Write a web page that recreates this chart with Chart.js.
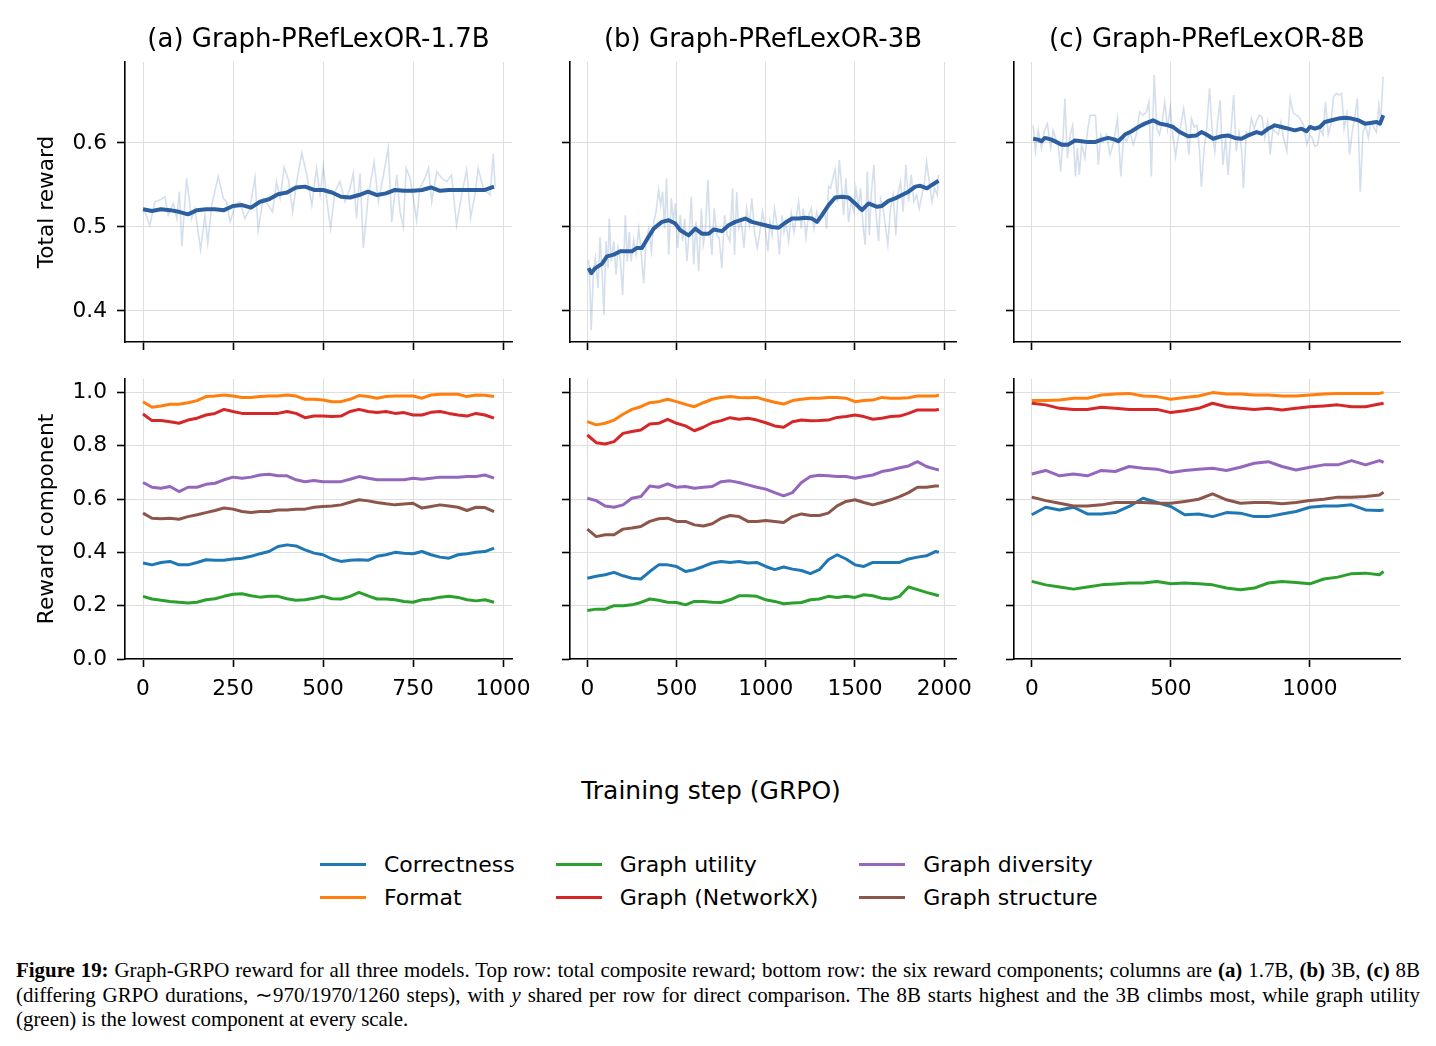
<!DOCTYPE html>
<html>
<head>
<meta charset="utf-8">
<script src="https://cdn.jsdelivr.net/npm/chart.js@4.4.1/dist/chart.umd.min.js"></script>
<style>
  body { margin: 0; background: #fff; width: 1436px; height: 1046px; overflow: hidden; position: relative; font-family: "DejaVu Sans", sans-serif; }
  .panel { position: absolute; }
  #pA1 { left: 30px;  top: 14px;  width: 488px; height: 340px; }
  #pB1 { left: 550px; top: 14px;  width: 412px; height: 340px; }
  #pC1 { left: 994px; top: 14px;  width: 412px; height: 340px; }
  #pA2 { left: 30px;  top: 371px; width: 512px; height: 328px; }
  #pB2 { left: 550px; top: 371px; width: 436px; height: 328px; }
  #pC2 { left: 994px; top: 371px; width: 436px; height: 328px; }
  #xlabel { position: absolute; left: 0; width: 1422px; top: 776px; text-align: center; font-size: 25px; color: #000; }
  #legend { position: absolute; left: 320px; top: 848px; display: grid; grid-auto-flow: column; grid-template-rows: 33px 33px; column-gap: 41px; font-size: 22px; color: #000; }
  .item { display: flex; align-items: center; white-space: nowrap; }
  .swatch { width: 46px; height: 3px; margin-right: 18px; }
  #caption { position: absolute; left: 16px; top: 958px; width: 1404px; font-family: "Liberation Serif", "Times New Roman", serif; font-size: 20.9px; line-height: 24.5px; color: #000; }
  .just { text-align: justify; text-align-last: justify; white-space: nowrap; }
</style>
</head>
<body>
<div class="panel" id="pA1"><canvas id="cA1"></canvas></div>
<div class="panel" id="pB1"><canvas id="cB1"></canvas></div>
<div class="panel" id="pC1"><canvas id="cC1"></canvas></div>
<div class="panel" id="pA2"><canvas id="cA2"></canvas></div>
<div class="panel" id="pB2"><canvas id="cB2"></canvas></div>
<div class="panel" id="pC2"><canvas id="cC2"></canvas></div>
<div id="xlabel">Training step (GRPO)</div>
<div id="legend"></div>
<div id="caption">
  <div class="just"><b>Figure 19:</b> Graph-GRPO reward for all three models. Top row: total composite reward; bottom row: the six reward components; columns are <b>(a)</b> 1.7B, <b>(b)</b> 3B, <b>(c)</b> 8B</div>
  <div class="just">(differing GRPO durations, ∼970/1970/1260 steps), with <i>y</i> shared per row for direct comparison. The 8B starts highest and the 3B climbs most, while graph utility</div>
  <div>(green) is the lowest component at every scale.</div>
</div>
<script>
// titres et libellés
const panelTitles = ['(a) Graph-PRefLexOR-1.7B', '(b) Graph-PRefLexOR-3B', '(c) Graph-PRefLexOR-8B'];
const componentNames = ['Correctness', 'Format', 'Graph utility', 'Graph (NetworkX)', 'Graph diversity', 'Graph structure'];
const componentColors = ['#1f77b4', '#ff7f0e', '#2ca02c', '#d62728', '#9467bd', '#8c564b'];

// graduations
const xTicksA = [0, 250, 500, 750, 1000];
const xTicksB = [0, 500, 1000, 1500, 2000];
const xTicksC = [0, 500, 1000];
const yTicksTop = [0.4, 0.5, 0.6];
const yTicksBottom = [0.0, 0.2, 0.4, 0.6, 0.8, 1.0];

// récompense totale (1.7B)
const smoothStepsA = [0,25,50,75,100,125,150,175,200,225,250,275,300,325,350,375,400,425,450,475,500,525,550,575,600,625,650,675,700,725,750,775,800,825,850,875,900,925,950,975];
const smoothRewardA = [0.521,0.519,0.521,0.520,0.518,0.515,0.520,0.521,0.521,0.520,0.525,0.526,0.523,0.530,0.533,0.539,0.541,0.547,0.548,0.544,0.544,0.541,0.536,0.535,0.538,0.542,0.538,0.540,0.544,0.543,0.543,0.544,0.547,0.543,0.544,0.544,0.544,0.544,0.544,0.548];
const rawStepsA = [5,19,33,47,61,70,84,94,101,108,121,135,144,160,172,180,191,209,223,232,242,256,269,283,297,311,320,334,348,360,371,381,392,404,416,427,441,455,469,482,492,501,510,521,533,547,561,575,584,593,603,612,626,642,654,668,681,691,705,714,723,731,742,751,760,769,783,793,802,816,830,844,857,871,885,899,910,922,931,945,964,973,978];
const rawRewardA = [0.518,0.502,0.530,0.532,0.536,0.514,0.528,0.510,0.542,0.477,0.558,0.510,0.522,0.473,0.514,0.481,0.526,0.560,0.534,0.530,0.506,0.526,0.530,0.510,0.522,0.559,0.496,0.534,0.526,0.518,0.554,0.534,0.571,0.556,0.518,0.554,0.588,0.562,0.526,0.570,0.538,0.572,0.534,0.498,0.542,0.554,0.530,0.546,0.564,0.510,0.564,0.475,0.538,0.577,0.530,0.562,0.594,0.506,0.562,0.518,0.500,0.570,0.558,0.534,0.508,0.546,0.558,0.570,0.530,0.566,0.558,0.554,0.562,0.502,0.538,0.568,0.511,0.538,0.570,0.546,0.538,0.587,0.548];

// récompense totale (3B)
const smoothStepsB = [7,22,45,82,110,148,185,213,250,278,306,334,372,418,456,493,521,568,605,642,680,708,754,792,829,885,922,960,997,1035,1072,1109,1147,1184,1221,1259,1287,1315,1352,1389,1427,1464,1501,1539,1576,1623,1651,1688,1725,1763,1800,1838,1866,1903,1931,1968];
const smoothRewardB = [0.451,0.445,0.451,0.456,0.465,0.467,0.471,0.471,0.471,0.475,0.475,0.485,0.498,0.506,0.508,0.504,0.496,0.490,0.498,0.492,0.492,0.497,0.495,0.502,0.506,0.510,0.506,0.504,0.502,0.500,0.499,0.505,0.510,0.510,0.511,0.510,0.506,0.514,0.526,0.535,0.536,0.535,0.528,0.520,0.528,0.524,0.525,0.531,0.534,0.538,0.542,0.548,0.549,0.546,0.550,0.555];
const rawStepsB = [7,15,22,34,45,60,71,82,93,105,116,123,134,148,161,172,185,198,213,224,235,246,260,273,288,303,316,329,344,359,373,385,400,411,422,433,444,456,471,482,493,506,521,534,545,558,571,583,596,609,624,639,650,661,676,687,698,711,726,739,754,769,784,799,814,825,837,848,863,878,893,908,922,937,952,967,982,997,1012,1023,1035,1049,1064,1076,1091,1102,1113,1128,1143,1158,1173,1184,1199,1210,1225,1240,1255,1270,1285,1300,1315,1330,1341,1352,1363,1378,1389,1401,1412,1423,1436,1449,1464,1479,1494,1505,1520,1531,1546,1557,1569,1580,1591,1606,1617,1632,1643,1655,1670,1684,1699,1714,1729,1740,1755,1770,1785,1800,1815,1830,1845,1860,1875,1890,1901,1916,1931,1946,1961,1968];
const rawRewardB = [0.461,0.427,0.377,0.447,0.463,0.427,0.488,0.451,0.395,0.483,0.451,0.510,0.459,0.483,0.443,0.475,0.461,0.419,0.514,0.459,0.494,0.459,0.485,0.467,0.498,0.467,0.433,0.483,0.498,0.471,0.506,0.518,0.544,0.526,0.542,0.498,0.558,0.467,0.534,0.506,0.528,0.475,0.514,0.483,0.510,0.459,0.494,0.536,0.455,0.506,0.447,0.522,0.479,0.494,0.556,0.498,0.467,0.522,0.490,0.487,0.451,0.514,0.490,0.483,0.546,0.467,0.542,0.498,0.506,0.475,0.522,0.502,0.534,0.494,0.475,0.494,0.518,0.498,0.471,0.506,0.490,0.522,0.502,0.467,0.514,0.494,0.506,0.483,0.516,0.494,0.514,0.530,0.498,0.522,0.487,0.514,0.522,0.498,0.518,0.506,0.518,0.518,0.498,0.548,0.546,0.560,0.568,0.530,0.580,0.554,0.514,0.558,0.506,0.530,0.518,0.546,0.524,0.546,0.500,0.479,0.566,0.490,0.538,0.574,0.518,0.483,0.534,0.526,0.502,0.479,0.522,0.538,0.490,0.538,0.554,0.518,0.574,0.530,0.562,0.530,0.538,0.522,0.538,0.554,0.578,0.554,0.530,0.546,0.538,0.562];

// récompense totale (8B)
const smoothStepsC = [5,23,35,47,71,89,107,131,155,179,203,227,251,275,299,311,335,359,383,406,436,460,490,508,532,562,592,610,628,652,682,706,730,754,778,808,826,850,874,898,922,946,970,988,1000,1018,1036,1054,1078,1102,1126,1150,1174,1198,1222,1240,1252,1264];
const smoothRewardC = [0.605,0.604,0.602,0.606,0.604,0.601,0.598,0.598,0.603,0.602,0.601,0.601,0.604,0.606,0.604,0.602,0.610,0.614,0.619,0.623,0.627,0.623,0.621,0.619,0.613,0.608,0.609,0.613,0.610,0.605,0.608,0.609,0.606,0.605,0.609,0.613,0.611,0.617,0.621,0.619,0.617,0.615,0.617,0.614,0.619,0.617,0.619,0.625,0.627,0.629,0.630,0.629,0.627,0.623,0.624,0.625,0.623,0.633];
const rawStepsC = [5,13,23,35,44,56,68,77,85,95,104,113,119,128,138,147,157,164,171,179,191,200,209,221,229,239,248,257,269,281,289,299,308,320,330,341,353,365,376,388,400,412,421,430,440,450,459,469,478,488,498,507,517,526,536,546,555,565,574,584,594,603,610,620,629,639,649,658,668,677,687,697,706,716,726,735,745,754,761,771,781,790,800,809,819,828,838,848,857,867,876,886,896,905,917,929,941,953,965,977,989,999,1008,1018,1028,1037,1047,1056,1066,1075,1085,1095,1104,1114,1123,1133,1143,1152,1162,1171,1181,1191,1200,1210,1219,1229,1239,1248,1255,1263];
const rawRewardC = [0.621,0.590,0.615,0.594,0.613,0.623,0.594,0.615,0.606,0.598,0.566,0.610,0.653,0.582,0.610,0.621,0.560,0.594,0.562,0.598,0.582,0.613,0.633,0.633,0.633,0.574,0.610,0.602,0.610,0.586,0.594,0.610,0.629,0.560,0.606,0.602,0.613,0.598,0.610,0.637,0.633,0.637,0.649,0.560,0.681,0.617,0.610,0.625,0.649,0.617,0.643,0.610,0.584,0.606,0.621,0.641,0.619,0.586,0.629,0.619,0.621,0.590,0.548,0.594,0.617,0.665,0.613,0.590,0.625,0.651,0.574,0.606,0.562,0.613,0.657,0.590,0.613,0.594,0.546,0.613,0.610,0.629,0.617,0.627,0.633,0.631,0.606,0.625,0.586,0.617,0.613,0.610,0.625,0.606,0.590,0.653,0.635,0.633,0.629,0.621,0.598,0.610,0.606,0.596,0.598,0.617,0.610,0.649,0.610,0.621,0.655,0.659,0.657,0.659,0.617,0.635,0.586,0.613,0.633,0.653,0.542,0.613,0.621,0.606,0.625,0.619,0.613,0.645,0.625,0.679];

// composantes (1.7B)
const stepsA = [0,25,50,75,100,125,150,175,200,225,250,275,300,325,350,375,400,425,450,475,500,525,550,575,600,625,650,675,700,725,750,775,800,825,850,875,900,925,950,975];
const correctnessA = [0.360,0.353,0.362,0.366,0.353,0.353,0.362,0.372,0.370,0.370,0.375,0.378,0.385,0.395,0.403,0.422,0.428,0.424,0.409,0.397,0.391,0.375,0.366,0.370,0.372,0.370,0.385,0.391,0.400,0.397,0.395,0.403,0.391,0.382,0.378,0.391,0.395,0.400,0.403,0.416];
const formatA = [0.965,0.944,0.949,0.955,0.955,0.961,0.969,0.984,0.986,0.990,0.986,0.981,0.981,0.984,0.986,0.986,0.990,0.986,0.974,0.974,0.971,0.965,0.965,0.974,0.988,0.984,0.978,0.984,0.986,0.986,0.986,0.978,0.990,0.993,0.993,0.993,0.984,0.990,0.989,0.984];
const utilityA = [0.235,0.225,0.220,0.216,0.213,0.210,0.213,0.222,0.226,0.235,0.243,0.245,0.237,0.232,0.235,0.235,0.226,0.220,0.222,0.228,0.235,0.226,0.225,0.235,0.250,0.237,0.225,0.225,0.222,0.216,0.213,0.222,0.225,0.232,0.235,0.231,0.222,0.218,0.222,0.213];
const networkxA = [0.919,0.894,0.894,0.890,0.884,0.896,0.903,0.915,0.921,0.936,0.928,0.921,0.921,0.921,0.921,0.921,0.928,0.921,0.905,0.911,0.911,0.909,0.911,0.928,0.936,0.928,0.924,0.928,0.921,0.924,0.915,0.915,0.925,0.928,0.921,0.915,0.911,0.921,0.915,0.903];
const diversityA = [0.662,0.644,0.640,0.647,0.628,0.644,0.644,0.655,0.659,0.672,0.682,0.678,0.682,0.690,0.693,0.687,0.687,0.672,0.665,0.669,0.665,0.665,0.665,0.674,0.684,0.678,0.672,0.672,0.672,0.672,0.678,0.674,0.678,0.682,0.682,0.682,0.684,0.684,0.690,0.678];
const structureA = [0.547,0.528,0.526,0.528,0.524,0.534,0.541,0.549,0.557,0.566,0.562,0.553,0.549,0.553,0.553,0.559,0.559,0.562,0.562,0.569,0.572,0.574,0.578,0.588,0.597,0.593,0.587,0.582,0.578,0.581,0.584,0.566,0.572,0.578,0.574,0.569,0.557,0.569,0.568,0.553];

// composantes (3B)
const stepsB = [0,50,100,150,200,250,300,350,400,450,500,550,600,650,700,750,800,850,900,950,1000,1050,1100,1150,1200,1250,1300,1350,1400,1450,1500,1550,1600,1650,1700,1750,1800,1850,1900,1950,1970];
const correctnessB = [0.303,0.310,0.316,0.325,0.312,0.303,0.300,0.328,0.353,0.353,0.347,0.328,0.335,0.347,0.360,0.366,0.362,0.366,0.360,0.362,0.347,0.335,0.345,0.337,0.332,0.320,0.335,0.372,0.391,0.375,0.353,0.347,0.362,0.362,0.362,0.362,0.375,0.382,0.387,0.403,0.400];
const formatB = [0.890,0.878,0.884,0.896,0.918,0.936,0.946,0.961,0.965,0.974,0.965,0.955,0.946,0.961,0.974,0.981,0.984,0.981,0.980,0.981,0.971,0.963,0.956,0.969,0.974,0.978,0.978,0.981,0.981,0.978,0.965,0.969,0.971,0.981,0.978,0.978,0.980,0.986,0.986,0.986,0.990];
const utilityB = [0.182,0.187,0.187,0.200,0.200,0.203,0.212,0.225,0.220,0.213,0.212,0.203,0.216,0.216,0.213,0.212,0.222,0.237,0.237,0.235,0.222,0.216,0.207,0.210,0.212,0.222,0.225,0.235,0.231,0.235,0.231,0.241,0.237,0.228,0.225,0.235,0.270,0.260,0.250,0.241,0.237];
const networkxB = [0.840,0.811,0.806,0.815,0.846,0.853,0.859,0.881,0.884,0.899,0.884,0.874,0.856,0.869,0.886,0.894,0.905,0.899,0.903,0.896,0.886,0.874,0.869,0.890,0.896,0.893,0.894,0.896,0.906,0.909,0.915,0.909,0.899,0.903,0.909,0.911,0.921,0.934,0.934,0.934,0.936];
const diversityB = [0.603,0.594,0.574,0.569,0.578,0.603,0.609,0.649,0.644,0.657,0.644,0.647,0.640,0.644,0.647,0.665,0.668,0.662,0.653,0.644,0.637,0.624,0.612,0.624,0.662,0.684,0.689,0.687,0.684,0.684,0.678,0.684,0.690,0.703,0.709,0.717,0.724,0.740,0.722,0.712,0.709];
const structureB = [0.487,0.459,0.466,0.466,0.487,0.491,0.497,0.516,0.526,0.528,0.516,0.516,0.503,0.499,0.507,0.528,0.538,0.534,0.516,0.516,0.519,0.516,0.512,0.534,0.544,0.538,0.538,0.547,0.574,0.591,0.597,0.587,0.578,0.587,0.597,0.609,0.624,0.644,0.644,0.649,0.649];

// composantes (8B)
const stepsC = [0,50,100,150,200,250,300,350,400,450,500,550,600,650,700,750,800,850,900,950,1000,1050,1100,1150,1200,1250,1265];
const correctnessC = [0.541,0.569,0.559,0.569,0.544,0.544,0.549,0.572,0.603,0.587,0.572,0.541,0.544,0.534,0.549,0.547,0.534,0.534,0.544,0.553,0.569,0.574,0.574,0.578,0.559,0.557,0.559];
const formatC = [0.969,0.969,0.971,0.978,0.978,0.990,0.994,0.996,0.986,0.984,0.974,0.981,0.986,0.999,0.994,0.994,0.990,0.990,0.986,0.986,0.990,0.994,0.996,0.996,0.996,0.996,1.000];
const utilityC = [0.291,0.278,0.270,0.262,0.270,0.278,0.281,0.285,0.285,0.291,0.282,0.285,0.282,0.278,0.266,0.260,0.266,0.285,0.291,0.287,0.282,0.300,0.307,0.320,0.322,0.316,0.328];
const networkxC = [0.959,0.953,0.940,0.936,0.936,0.944,0.940,0.936,0.936,0.936,0.924,0.931,0.940,0.959,0.946,0.940,0.936,0.940,0.934,0.940,0.946,0.949,0.953,0.946,0.946,0.956,0.959];
const diversityC = [0.694,0.707,0.687,0.694,0.687,0.707,0.703,0.722,0.715,0.712,0.699,0.707,0.712,0.715,0.707,0.719,0.734,0.740,0.722,0.709,0.719,0.728,0.728,0.744,0.728,0.744,0.737];
const structureC = [0.607,0.594,0.584,0.574,0.574,0.578,0.587,0.587,0.587,0.584,0.584,0.591,0.599,0.619,0.597,0.584,0.587,0.587,0.582,0.587,0.594,0.599,0.607,0.607,0.609,0.615,0.625];

const FONT = 'DejaVu Sans';
const TICK_SIZE = 21.7;
const GRID = '#dedede';
const SMOOTH = '#2c5f9f';
const RAW = 'rgba(44,95,159,0.2)';

function pts(xs, ys) {
  return xs.map((x, i) => ({ x: x, y: ys[i] }));
}

function rewardSets(sx, sy, rx, ry) {
  return [
    { data: pts(sx, sy), borderColor: SMOOTH, borderWidth: 4, borderJoinStyle: 'round' },
    { data: pts(rx, ry), borderColor: RAW, borderWidth: 1.6 }
  ];
}

function componentSets(steps, series) {
  return series.map((ys, i) => ({
    data: pts(steps, ys),
    borderColor: componentColors[i],
    borderWidth: 3,
    borderJoinStyle: 'round',
    order: series.length - 1 - i
  }));
}

function buildPanel(id, p) {
  return new Chart(document.getElementById(id), {
    type: 'line',
    data: { datasets: p.datasets },
    options: {
      animation: false,
      responsive: true,
      maintainAspectRatio: false,
      layout: { padding: { top: p.padTop, right: p.padRight, left: 0, bottom: 0 } },
      elements: { point: { radius: 0 }, line: { tension: 0 } },
      plugins: {
        legend: { display: false },
        tooltip: { enabled: false },
        title: {
          display: !!p.title, text: p.title || '', fullSize: false, color: '#000',
          font: { family: FONT, size: 26, weight: 'normal' },
          padding: { top: 11, bottom: 5.8 }
        }
      },
      scales: {
        x: {
          type: 'linear', min: p.xMin, max: p.xMax,
          afterBuildTicks: s => { s.ticks = p.xTicks.map(v => ({ value: v })); },
          afterFit: s => { s.height = p.xHeight; s.paddingLeft = 0; s.paddingRight = 0; },
          grid: { color: GRID, lineWidth: 1, tickColor: '#000', tickWidth: 1.6, tickLength: 8 },
          border: { color: '#000', width: 1.6 },
          ticks: {
            display: p.xLabels, color: '#000', font: { family: FONT, size: TICK_SIZE },
            padding: 9, maxRotation: 0, autoSkip: false, callback: v => String(v)
          }
        },
        y: {
          type: 'linear', min: p.yMin, max: p.yMax,
          afterBuildTicks: s => { s.ticks = p.yTicks.map(v => ({ value: v })); },
          afterFit: s => { s.width = p.yWidth; s.paddingTop = 0; s.paddingBottom = 0; },
          grid: { color: GRID, lineWidth: 1, tickColor: '#000', tickWidth: 1.6, tickLength: 8 },
          border: { color: '#000', width: 1.6 },
          title: {
            display: !!p.yTitle, text: p.yTitle || '', color: '#000',
            font: { family: FONT, size: TICK_SIZE }, padding: { top: 4, bottom: 0 }
          },
          ticks: {
            display: p.yLabels, color: '#000', font: { family: FONT, size: TICK_SIZE },
            padding: 10, callback: v => v.toFixed(1)
          }
        }
      }
    }
  });
}

const topRow = { padTop: 0, padRight: 6, xHeight: 12, xLabels: false, yMin: 0.363, yMax: 0.6964, yTicks: yTicksTop };
const botRow = { padTop: 8, padRight: 30, xHeight: 40, xLabels: true, yMin: 0, yMax: 1.05, yTicks: yTicksBottom };
const colA = { xMin: -50, xMax: 1025, xTicks: xTicksA, yWidth: 95, yLabels: true };
const colB = { xMin: -97, xMax: 2066, xTicks: xTicksB, yWidth: 20, yLabels: false };
const colC = { xMin: -64, xMax: 1324, xTicks: xTicksC, yWidth: 20, yLabels: false };

buildPanel('cA1', Object.assign({}, topRow, colA, { title: panelTitles[0], yTitle: 'Total reward',
  datasets: rewardSets(smoothStepsA, smoothRewardA, rawStepsA, rawRewardA) }));
buildPanel('cB1', Object.assign({}, topRow, colB, { title: panelTitles[1],
  datasets: rewardSets(smoothStepsB, smoothRewardB, rawStepsB, rawRewardB) }));
buildPanel('cC1', Object.assign({}, topRow, colC, { title: panelTitles[2],
  datasets: rewardSets(smoothStepsC, smoothRewardC, rawStepsC, rawRewardC) }));

buildPanel('cA2', Object.assign({}, botRow, colA, { yTitle: 'Reward component',
  datasets: componentSets(stepsA, [correctnessA, formatA, utilityA, networkxA, diversityA, structureA]) }));
buildPanel('cB2', Object.assign({}, botRow, colB, {
  datasets: componentSets(stepsB, [correctnessB, formatB, utilityB, networkxB, diversityB, structureB]) }));
buildPanel('cC2', Object.assign({}, botRow, colC, {
  datasets: componentSets(stepsC, [correctnessC, formatC, utilityC, networkxC, diversityC, structureC]) }));

// légende commune
const legend = document.getElementById('legend');
componentNames.forEach((name, i) => {
  const item = document.createElement('div');
  item.className = 'item';
  item.innerHTML = '<span class="swatch" style="background:' + componentColors[i] + '"></span>' + name;
  legend.appendChild(item);
});
</script>
</body>
</html>
